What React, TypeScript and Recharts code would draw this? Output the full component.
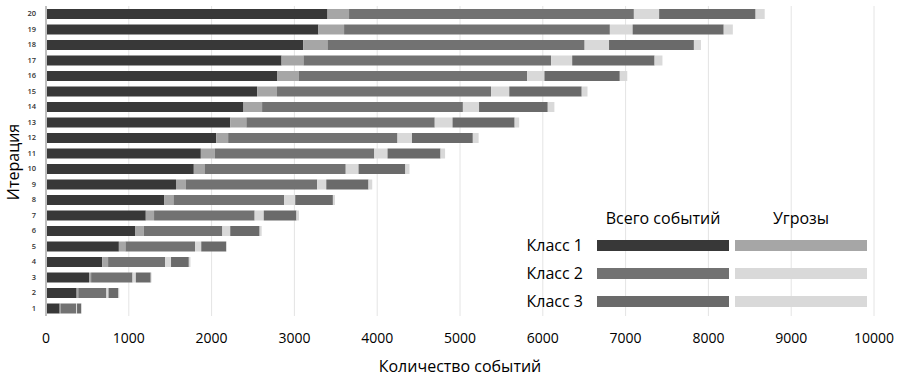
import { BarChart, Bar, XAxis, YAxis, CartesianGrid } from "recharts";

const iterations = Array.from({ length: 20 }, (_, i) => String(i + 1));

// stacked segments per iteration (1..20)
const class1Total = [165, 370, 520, 680, 880, 1080, 1205, 1430, 1570, 1785, 1870, 2055, 2225, 2385, 2550, 2795, 2845, 3105, 3290, 3400];
const class1Threats = [10, 20, 25, 70, 80, 100, 100, 110, 120, 130, 170, 145, 195, 225, 240, 260, 265, 295, 310, 260];
const class2Total = [190, 340, 500, 690, 840, 950, 1215, 1335, 1585, 1705, 1925, 2045, 2275, 2425, 2585, 2755, 2990, 3105, 3210, 3440];
const class2Threats = [10, 25, 40, 70, 75, 95, 110, 135, 110, 155, 160, 175, 215, 195, 220, 210, 255, 295, 275, 305];
const class3Total = [50, 120, 180, 215, 300, 355, 395, 455, 510, 565, 640, 735, 750, 830, 875, 910, 995, 1025, 1100, 1165];
const class3Threats = [10, 10, 10, 20, 10, 25, 30, 25, 45, 50, 55, 70, 55, 80, 70, 90, 95, 85, 110, 110];

const xTicks = [0, 1000, 2000, 3000, 4000, 5000, 6000, 7000, 8000, 9000, 10000];

const classes = ["Класс 1", "Класс 2", "Класс 3"];
const totalColors = ["#383838", "#727272", "#6a6a6a"];
const threatColors = ["#a6a6a6", "#d9d9d9", "#d9d9d9"];

const data = iterations.map((it, i) => ({
  iter: it,
  c1: class1Total[i],
  t1: class1Threats[i],
  c2: class2Total[i],
  t2: class2Threats[i],
  c3: class3Total[i],
  t3: class3Threats[i],
}));

const FONT = "'Open Sans', sans-serif";

function YTitle() {
  return (
    <text
      x={13}
      y={162}
      transform="rotate(-90 13 162)"
      textAnchor="middle"
      dominantBaseline="central"
      fontFamily={FONT}
      fontSize={16}
      fill="#000"
    >
      Итерация
    </text>
  );
}

function LegendTable() {
  return (
    <div
      style={{
        position: "absolute",
        left: 499,
        top: 204,
        display: "grid",
        gridTemplateColumns: "92px 132px 132px",
        columnGap: 6,
        rowGap: 0,
        alignItems: "center",
        fontFamily: FONT,
        fontSize: 16,
        color: "#000",
      }}
    >
      <div />
      <div style={{ textAlign: "center", height: 28, lineHeight: "28px" }}>Всего событий</div>
      <div style={{ textAlign: "center", height: 28, lineHeight: "28px" }}>Угрозы</div>
      {classes.map((c, i) => [
        <div key={c + "l"} style={{ textAlign: "right", height: 28, lineHeight: "26px", paddingRight: 8 }}>
          {c}
        </div>,
        <div key={c + "a"} style={{ height: 11, marginTop: -2, background: totalColors[i] }} />,
        <div key={c + "b"} style={{ height: 11, marginTop: -2, background: threatColors[i] }} />,
      ])}
    </div>
  );
}

export default function App() {
  return (
    <div style={{ position: "absolute", left: 0, top: 0, width: 901, height: 382, background: "#fff" }}>
      <BarChart
        width={901}
        height={382}
        data={data}
        layout="vertical"
        margin={{ top: 6, right: 27, bottom: 0, left: 0 }}
        barSize={10}
      >
        <CartesianGrid horizontal={false} stroke="#e4e4e4" />
        <XAxis
          type="number"
          domain={[0, 10000]}
          ticks={xTicks}
          height={66}
          axisLine={false}
          tickLine={false}
          tickSize={6}
          tickMargin={11}
          tick={{ fontFamily: FONT, fontSize: 14, fill: "#000" }}
          label={{
            value: "Количество событий",
            position: "insideBottom",
            offset: 10,
            style: { fontFamily: FONT, fontSize: 16, fill: "#000" },
          }}
        />
        <YAxis
          type="category"
          dataKey="iter"
          reversed
          width={46}
          axisLine={{ stroke: "#bfbfbf", strokeWidth: 2 }}
          tickLine={false}
          tickMargin={4}
          interval={0}
          tick={{ fontFamily: FONT, fontSize: 7.5, fontWeight: 600, fill: "#333" }}
          label={<YTitle />}
        />
        <Bar dataKey="c1" stackId="a" fill={totalColors[0]} isAnimationActive={false} />
        <Bar dataKey="t1" stackId="a" fill={threatColors[0]} isAnimationActive={false} />
        <Bar dataKey="c2" stackId="a" fill={totalColors[1]} isAnimationActive={false} />
        <Bar dataKey="t2" stackId="a" fill={threatColors[1]} isAnimationActive={false} />
        <Bar dataKey="c3" stackId="a" fill={totalColors[2]} isAnimationActive={false} />
        <Bar dataKey="t3" stackId="a" fill={threatColors[2]} isAnimationActive={false} />
      </BarChart>
      <LegendTable />
    </div>
  );
}
